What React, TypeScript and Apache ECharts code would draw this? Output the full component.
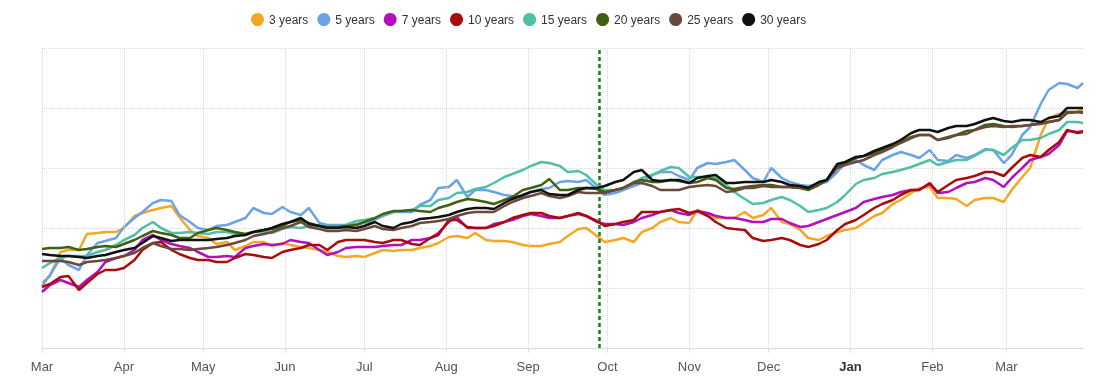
import React, { useEffect, useRef } from "react";
import * as echarts from "echarts";

const dates = [
  "2022-03-01", "2022-03-04", "2022-03-08", "2022-03-11", "2022-03-15", "2022-03-18", "2022-03-22", "2022-03-25", "2022-03-29", "2022-04-01",
  "2022-04-05", "2022-04-08", "2022-04-12", "2022-04-15", "2022-04-19", "2022-04-22", "2022-04-26", "2022-04-29", "2022-05-03", "2022-05-06",
  "2022-05-10", "2022-05-13", "2022-05-17", "2022-05-20", "2022-05-24", "2022-05-27", "2022-05-31", "2022-06-03", "2022-06-07", "2022-06-10",
  "2022-06-14", "2022-06-17", "2022-06-21", "2022-06-24", "2022-06-28", "2022-07-01", "2022-07-05", "2022-07-08", "2022-07-12", "2022-07-15",
  "2022-07-19", "2022-07-22", "2022-07-26", "2022-07-29", "2022-08-02", "2022-08-05", "2022-08-09", "2022-08-12", "2022-08-16", "2022-08-19",
  "2022-08-23", "2022-08-26", "2022-08-30", "2022-09-02", "2022-09-06", "2022-09-09", "2022-09-13", "2022-09-16", "2022-09-20", "2022-09-23",
  "2022-09-27", "2022-09-30", "2022-10-04", "2022-10-07", "2022-10-11", "2022-10-14", "2022-10-18", "2022-10-21", "2022-10-25", "2022-10-28",
  "2022-11-01", "2022-11-04", "2022-11-08", "2022-11-11", "2022-11-15", "2022-11-18", "2022-11-22", "2022-11-25", "2022-11-29", "2022-12-02",
  "2022-12-06", "2022-12-09", "2022-12-13", "2022-12-16", "2022-12-20", "2022-12-23", "2022-12-27", "2022-12-30", "2023-01-03", "2023-01-06",
  "2023-01-10", "2023-01-13", "2023-01-17", "2023-01-20", "2023-01-24", "2023-01-27", "2023-01-31", "2023-02-03", "2023-02-07", "2023-02-10",
  "2023-02-14", "2023-02-17", "2023-02-21", "2023-02-24", "2023-02-28", "2023-03-03", "2023-03-07", "2023-03-10", "2023-03-14", "2023-03-17",
  "2023-03-21", "2023-03-24", "2023-03-28", "2023-03-30",
];

const seriesNames = ["3 years", "5 years", "7 years", "10 years", "15 years", "20 years", "25 years", "30 years"];
const seriesColors = ["#f5a623", "#6aa3e6", "#b30fbf", "#a80c0c", "#4fbfa5", "#3f610f", "#6b4839", "#111111"];

const y3 = [
  65, 72, 96, 98, 98, 114, 115, 116, 116, 120, 132, 135, 138, 140, 142, 131, 118, 112, 110, 104,
  106, 98, 102, 106, 106, 102, 105, 103, 101, 100, 98, 96, 92, 91, 92, 91, 95, 98, 97, 98,
  98, 100, 102, 105, 111, 112, 110, 115, 108, 107, 107, 106, 103, 102, 102, 104, 106, 112, 119, 120,
  112, 106, 108, 110, 106, 116, 120, 126, 130, 126, 125, 138, 133, 130, 130, 130, 136, 130, 133, 140,
  126, 124, 118, 110, 108, 112, 116, 118, 120, 125, 132, 135, 144, 148, 155, 160, 161, 150, 150, 149,
  142, 148, 150, 150, 146, 158, 171, 180, 213, 230, 234, 235, 236, 240,
];
const y5 = [
  62, 73, 90, 83, 78, 93, 105, 107, 110, 121, 130, 136, 145, 148, 147, 133, 126, 120, 118, 122,
  123, 126, 130, 140, 135, 134, 141, 136, 133, 140, 125, 123, 123, 123, 124, 125, 128, 132, 136, 136,
  136, 143, 148, 160, 161, 168, 151, 158, 158, 156, 153, 152, 151, 156, 159, 160, 166, 167, 166, 168,
  159, 153, 155, 158, 162, 165, 173, 176, 176, 172, 168, 180, 185, 184, 186, 188, 178, 170, 166, 180,
  170, 166, 163, 162, 164, 166, 176, 185, 188, 183, 178, 188, 193, 196, 193, 190, 198, 188, 187, 193,
  190, 193, 199, 198, 185, 193, 213, 221, 244, 258, 265, 264, 260, 265,
];
const y7 = [
  56, 63, 68, 65, 61, 68, 76, 86, 90, 92, 98, 108, 113, 108, 104, 102, 100, 96, 91, 91,
  92, 91, 100, 102, 104, 103, 104, 108, 106, 105, 98, 93, 96, 100, 101, 101, 101, 102, 103, 103,
  108, 108, 110, 115, 126, 131, 120, 120, 120, 124, 126, 128, 132, 134, 132, 130, 130, 132, 134, 132,
  126, 124, 124, 123, 126, 130, 133, 136, 138, 135, 133, 137, 135, 132, 130, 130, 128, 126, 126, 129,
  129, 125, 121, 122, 126, 129, 133, 136, 140, 146, 149, 151, 153, 156, 158, 158, 164, 155, 156, 160,
  165, 166, 170, 168, 161, 170, 180, 188, 191, 194, 203, 217, 216, 217,
];
const y10 = [
  61, 64, 71, 72, 58, 65, 74, 78, 78, 80, 88, 98, 105, 106, 98, 94, 90, 88, 88, 86,
  86, 90, 94, 93, 91, 90, 96, 98, 100, 103, 103, 98, 106, 108, 108, 108, 106, 105, 108, 108,
  104, 103, 110, 113, 128, 128, 121, 120, 120, 122, 126, 130, 133, 135, 135, 132, 130, 132, 135, 132,
  127, 122, 124, 126, 128, 136, 136, 136, 138, 139, 135, 137, 132, 126, 120, 119, 118, 110, 107, 108,
  110, 108, 103, 101, 104, 108, 118, 124, 128, 133, 140, 144, 148, 153, 158, 158, 165, 156, 163, 168,
  170, 172, 176, 176, 172, 180, 190, 193, 191, 198, 206, 218, 215, 216,
];
const y15 = [
  80, 85, 90, 92, 92, 92, 96, 98, 103, 108, 113, 120, 126, 120, 115, 115, 116, 115, 114, 116,
  116, 114, 114, 116, 116, 115, 119, 121, 120, 122, 123, 121, 121, 123, 127, 128, 130, 133, 136, 137,
  138, 142, 142, 148, 150, 155, 156, 159, 161, 165, 171, 174, 178, 182, 186, 185, 182, 176, 177, 173,
  163, 158, 158, 160, 165, 170, 173, 177, 181, 180, 171, 171, 171, 170, 163, 156, 149, 144, 145, 148,
  151, 148, 142, 136, 138, 140, 146, 153, 164, 168, 170, 174, 176, 178, 181, 184, 188, 183, 186, 188,
  188, 192, 198, 198, 193, 200, 208, 208, 210, 214, 218, 226, 226, 225,
];
const y20 = [
  99, 100, 100, 101, 98, 99, 101, 102, 101, 104, 108, 112, 117, 115, 113, 110, 110, 115, 118, 120,
  118, 116, 114, 116, 118, 119, 122, 126, 128, 125, 122, 121, 121, 122, 123, 126, 130, 134, 137, 137,
  138, 137, 136, 140, 143, 146, 149, 148, 146, 144, 148, 151, 158, 160, 163, 169, 158, 158, 160, 160,
  159, 156, 158, 160, 166, 168, 166, 166, 168, 167, 165, 166, 170, 168, 160, 159, 161, 162, 163, 163,
  161, 161, 160, 158, 163, 168, 182, 185, 190, 192, 195, 198, 203, 206, 211, 213, 213, 208, 211, 213,
  217, 218, 223, 224, 222, 221, 222, 223, 225, 226, 228, 235, 236, 236,
];
const y25 = [
  87, 87, 87, 86, 83, 86, 87, 88, 90, 92, 95, 100, 105, 102, 99, 99, 98, 99, 100, 101,
  103, 105, 108, 112, 114, 116, 120, 122, 126, 121, 119, 117, 117, 118, 117, 119, 122, 119, 118, 120,
  122, 125, 126, 127, 129, 132, 135, 136, 136, 136, 142, 146, 150, 152, 155, 152, 150, 152, 156, 155,
  155, 155, 158, 160, 165, 165, 162, 158, 158, 158, 161, 162, 163, 162, 156, 157, 160, 160, 162, 161,
  161, 161, 160, 160, 164, 168, 180, 183, 186, 188, 193, 196, 201, 205, 210, 213, 213, 208, 210, 213,
  214, 218, 221, 222, 221, 222, 222, 223, 224, 226, 228, 236, 236, 235,
];
const y30 = [
  94, 93, 92, 92, 91, 90, 92, 93, 96, 98, 100, 105, 112, 110, 107, 108, 108, 108, 108, 109,
  110, 112, 113, 116, 118, 120, 124, 126, 130, 124, 122, 120, 120, 121, 120, 122, 126, 122, 120, 124,
  126, 129, 130, 131, 133, 136, 139, 140, 140, 139, 145, 149, 153, 156, 158, 154, 153, 153, 158, 160,
  160, 162, 166, 168, 176, 178, 168, 167, 168, 168, 165, 170, 172, 173, 165, 165, 166, 166, 166, 168,
  166, 163, 162, 160, 166, 168, 184, 186, 191, 192, 197, 200, 204, 208, 215, 218, 218, 216, 220, 222,
  222, 224, 228, 230, 227, 226, 228, 228, 226, 230, 232, 240, 240, 240,
];

const seriesValues = [y3, y5, y7, y10, y15, y20, y25, y30];

const monthTicks = [
  "2022-03-01", "2022-04-01", "2022-05-01", "2022-06-01", "2022-07-01", "2022-08-01", "2022-09-01",
  "2022-10-01", "2022-11-01", "2022-12-01", "2023-01-01", "2023-02-01", "2023-03-01",
];
const monthNames = ["Jan", "Feb", "Mar", "Apr", "May", "Jun", "Jul", "Aug", "Sep", "Oct", "Nov", "Dec"];
const markerDate = "2022-09-28";
const startDate = "2022-03-01";
const endDate = "2023-03-30";

const ts = (s: string) => {
  const [y, m, d] = s.split("-").map(Number);
  return new Date(y, m - 1, d).getTime();
};

export default function App() {
  const ref = useRef<HTMLDivElement>(null);
  useEffect(() => {
    if (!ref.current) return;
    const chart = echarts.init(ref.current, null, { renderer: "svg" });
    const tickValues = monthTicks.map(ts);
    const font = "'Liberation Sans', Arial, sans-serif";
    const lineSeries = seriesNames.map((name, i) => ({
      name,
      type: "line",
      showSymbol: false,
      symbol: "none",
      color: seriesColors[i],
      lineStyle: { width: 2.5, color: seriesColors[i] },
      data: dates.map((d, j) => [ts(d), seriesValues[i][j]]),
      z: 3 + i,
    }));
    chart.setOption({
      animation: false,
      textStyle: { fontFamily: font },
      legend: {
        data: seriesNames,
        top: 8,
        left: 246,
        icon: "circle",
        itemWidth: 13,
        itemHeight: 13,
        itemGap: 9,
        textStyle: { fontSize: 12, color: "#333", fontFamily: font },
      },
      grid: { left: 42, right: 14, top: 48, bottom: 34 },
      xAxis: {
        type: "value",
        min: ts(startDate),
        max: ts(endDate),
        axisLine: { show: true, lineStyle: { color: "#dcdcdc", width: 1 } },
        axisTick: { show: true, customValues: tickValues, length: 5, lineStyle: { color: "#e0e0e0" } },
        splitLine: { show: false },
        axisLabel: {
          customValues: tickValues,
          margin: 12,
          fontSize: 13,
          color: "#555",
          fontFamily: font,
          formatter: (v: number) => {
            const m = new Date(v).getMonth();
            return m === 0 ? `{b|${monthNames[m]}}` : monthNames[m];
          },
          rich: { b: { fontWeight: "bold", color: "#333", fontSize: 13, fontFamily: font } },
        },
      },
      yAxis: {
        type: "value",
        min: 0,
        max: 300,
        interval: 60,
        axisLine: { show: false },
        axisTick: { show: false },
        axisLabel: { show: false },
        splitLine: { show: true, lineStyle: { type: "dotted", color: "#d8d8d8", width: 1 } },
      },
      series: [
        {
          name: "grid",
          type: "line",
          data: [],
          silent: true,
          z: 1,
          markLine: {
            silent: true,
            symbol: "none",
            label: { show: false },
            lineStyle: { type: "dotted", color: "#d8d8d8", width: 1 },
            data: tickValues.map((v) => ({ xAxis: v })),
          },
        },
        ...lineSeries,
        {
          name: "marker",
          type: "line",
          data: [],
          silent: true,
          z: 20,
          markLine: {
            silent: true,
            symbol: "none",
            label: { show: false },
            lineStyle: { type: [4, 3], color: "#1b7d1b", width: 2.5 },
            data: [{ xAxis: ts(markerDate) }],
          },
        },
      ],
    });
    return () => chart.dispose();
  }, []);
  return <div ref={ref} style={{ position: "fixed", left: 0, top: 0, width: 1097, height: 382 }} />;
}
